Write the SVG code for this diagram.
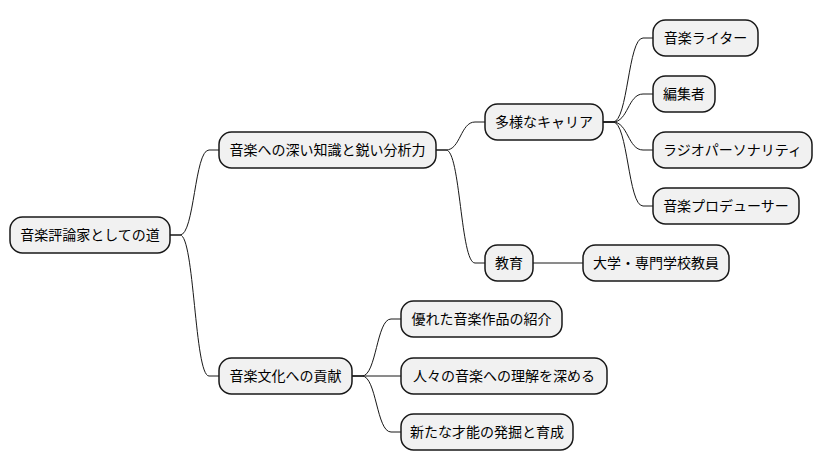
<svg xmlns="http://www.w3.org/2000/svg" width="824" height="471" viewBox="0 0 824 471">
<style>
.n rect{fill:#F1F1F1;stroke:#181818;stroke-width:1.5}
.n text{font-family:"Noto Sans CJK JP","Noto Sans",sans-serif;font-size:14px;fill:#000;text-anchor:middle}
#c path{fill:none;stroke:#181818;stroke-width:1}
</style>
<rect width="824" height="471" fill="#FFFFFF"/>
<g id="c">
<path d="M170,235 L180,235 C194.5,235 194.5,150 209,150 L219,150"/>
<path d="M170,235 L180,235 C194.5,235 194.5,376 209,376 L219,376"/>
<path d="M436,150 L446,150 C460.5,150 460.5,122 475,122 L485,122"/>
<path d="M436,150 L446,150 C460.5,150 460.5,263 475,263 L485,263"/>
<path d="M603,122 L613,122 C628,122 628,38 643,38 L653,38"/>
<path d="M603,122 L613,122 C628,122 628,94 643,94 L653,94"/>
<path d="M603,122 L613,122 C628,122 628,150 643,150 L653,150"/>
<path d="M603,122 L613,122 C628,122 628,206 643,206 L653,206"/>
<path d="M533,263 L583,263"/>
<path d="M352,376 L362,376 C376.5,376 376.5,319 391,319 L401,319"/>
<path d="M352,376 L401,376"/>
<path d="M352,376 L362,376 C376.5,376 376.5,432 391,432 L401,432"/>
</g>
<g id="root" class="n"><rect x="10" y="217" width="160" height="36" rx="12.5"/><text x="90" y="240">音楽評論家としての道</text></g>
<g id="knowledge" class="n"><rect x="219" y="132" width="217" height="36" rx="12.5"/><text x="327.5" y="155">音楽への深い知識と鋭い分析力</text></g>
<g id="career" class="n"><rect x="485" y="104" width="118" height="36" rx="12.5"/><text x="544" y="127">多様なキャリア</text></g>
<g id="writer" class="n"><rect x="653" y="20" width="105" height="36" rx="12.5"/><text x="705.5" y="43">音楽ライター</text></g>
<g id="editor" class="n"><rect x="653" y="76" width="62" height="36" rx="12.5"/><text x="684" y="99">編集者</text></g>
<g id="radio" class="n"><rect x="653" y="132" width="159" height="36" rx="12.5"/><text x="732.5" y="155">ラジオパーソナリティ</text></g>
<g id="producer" class="n"><rect x="653" y="188" width="146" height="36" rx="12.5"/><text x="726" y="211">音楽プロデューサー</text></g>
<g id="education" class="n"><rect x="485" y="245" width="48" height="36" rx="12.5"/><text x="509" y="268">教育</text></g>
<g id="teacher" class="n"><rect x="583" y="245" width="146" height="36" rx="12.5"/><text x="656" y="268">大学・専門学校教員</text></g>
<g id="contribution" class="n"><rect x="219" y="358" width="133" height="36" rx="12.5"/><text x="285.5" y="381">音楽文化への貢献</text></g>
<g id="intro" class="n"><rect x="401" y="301" width="161" height="36" rx="12.5"/><text x="481.5" y="324">優れた音楽作品の紹介</text></g>
<g id="understanding" class="n"><rect x="401" y="358" width="206" height="36" rx="12.5"/><text x="504" y="381">人々の音楽への理解を深める</text></g>
<g id="talent" class="n"><rect x="401" y="414" width="172" height="36" rx="12.5"/><text x="487" y="437">新たな才能の発掘と育成</text></g>
</svg>
